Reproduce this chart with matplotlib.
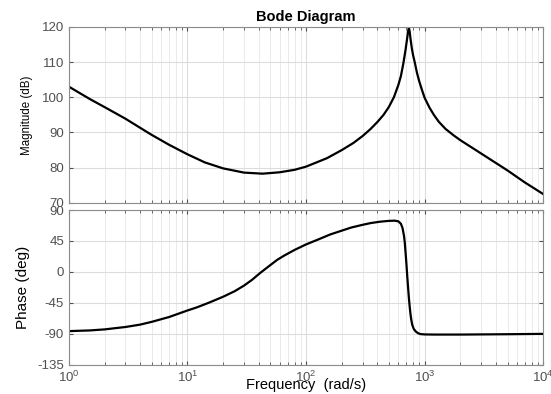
import numpy as np
import matplotlib.pyplot as plt
from matplotlib.ticker import LogLocator, NullFormatter

plt.rcParams['font.family'] = ['Liberation Sans', 'DejaVu Sans']
plt.rcParams['axes.unicode_minus'] = False

# Magnitude response (rad/s, dB)
mag_w = [1, 1.5, 2, 3, 4, 5, 7, 10, 14, 20, 30, 43, 60, 80, 100, 150, 200,
         250, 300, 350, 400, 450, 500, 550, 600, 630, 660, 690, 710, 725, 736,
         746, 760, 780, 800, 826, 860, 900, 950, 1000, 1100, 1200, 1318, 1500,
         1750, 2000, 3000, 4000, 5000, 7000, 10000]
mag_db = [103, 99.5, 97.2, 93.9, 91.3, 89.3, 86.5, 83.8, 81.5, 79.8, 78.6,
          78.3, 78.7, 79.4, 80.3, 82.7, 85.0, 87.0, 89.0, 91.0, 93.0, 95.0,
          97.3, 100.0, 103.5, 106.0, 109.5, 113.5, 116.5, 118.8, 119.7, 118.8,
          116.5, 113.8, 111.8, 109.8, 107.0, 104.5, 102.0, 99.8, 97.0, 94.9,
          93.0, 91.0, 89.2, 87.8, 84.0, 81.3, 79.2, 75.8, 72.5]

# Phase response (rad/s, deg)
ph_w = [1, 1.5, 2, 3, 4, 5, 7, 10, 12, 15, 20, 25, 30, 35, 41, 50, 57, 65,
        80, 100, 130, 160, 200, 240, 300, 350, 420, 500, 560, 600, 630, 650,
        670, 680, 690, 700, 712, 724, 736, 748, 760, 772, 786, 810, 840, 880,
        920, 1000, 1200, 2000, 5000, 10000]
ph_deg = [-86, -85, -83.5, -80, -76.5, -72.5, -65.5, -56, -51.5, -45, -36,
          -28, -19.8, -11.5, -1.5, 10, 17.5, 23.5, 32, 40, 48, 54.5, 60, 64.5,
          68.5, 71, 73, 74.2, 74.5, 73.5, 70, 64, 52, 42, 28, 14, -5, -22,
          -38, -51, -62, -70, -77, -83, -86.5, -89, -90.3, -90.8, -91, -91,
          -90.5, -90]

grey = '#505050'

fig = plt.figure(figsize=(5.51, 3.94), dpi=100)
ax1 = fig.add_axes([0.125, 0.485, 0.861, 0.447])
ax2 = fig.add_axes([0.125, 0.074, 0.861, 0.393])

for ax in (ax1, ax2):
    ax.set_xscale('log')
    ax.set_xlim(1, 1e4)
    ax.xaxis.set_major_locator(LogLocator(base=10, numticks=10))
    ax.xaxis.set_minor_locator(LogLocator(base=10, subs=np.arange(2, 10), numticks=10))
    ax.xaxis.set_minor_formatter(NullFormatter())
    ax.grid(True, which='major', color='#dcdcdc', lw=0.8)
    ax.grid(True, which='minor', color='#e6e6e6', lw=0.6)
    ax.set_axisbelow(True)
    ax.tick_params(which='both', direction='in', top=True, right=True,
                   colors=grey, labelsize=9.5, labelcolor=grey)
    ax.tick_params(which='major', length=3)
    ax.tick_params(which='minor', length=2)
    for s in ax.spines.values():
        s.set_color('#8c8c8c')
        s.set_linewidth(0.8)

ax1.plot(mag_w, mag_db, color='black', lw=1.6)
ax1.set_ylim(70, 120)
ax1.set_yticks(np.arange(70, 121, 10))
ax1.tick_params(labelbottom=False)
ax1.set_ylabel('Magnitude (dB)', fontsize=8.3, labelpad=6)
ax1.set_title('Bode Diagram', fontsize=10.5, fontweight='bold', pad=4)

ax2.plot(ph_w, ph_deg, color='black', lw=1.6)
ax2.set_ylim(-135, 90)
ax2.set_yticks(np.arange(-135, 91, 45))
ax2.set_ylabel('Phase (deg)', fontsize=11, labelpad=5)
ax2.set_xlabel('Frequency  (rad/s)', fontsize=10.5, labelpad=-5)

fig.savefig('out.png', dpi=100)
